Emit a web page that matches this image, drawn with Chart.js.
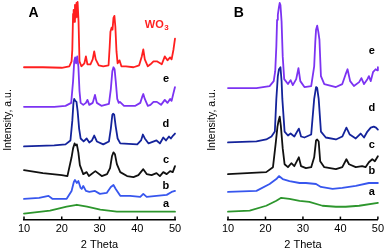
<!DOCTYPE html>
<html>
<head>
<meta charset="utf-8">
<script src="https://cdn.jsdelivr.net/npm/chart.js@4.4.0/dist/chart.umd.min.js"></script>
<style>
  body { margin: 0; background: #fff; }
  #wrap { position: relative; width: 387px; height: 252px; }
  canvas { position: absolute; top: 0; }
</style>
</head>
<body>
<div id="wrap">
  <canvas id="chartA" width="193" height="252" style="left:0"></canvas>
  <canvas id="chartB" width="194" height="252" style="left:193px"></canvas>
</div>
<script>
let thetaTicks = [10, 20, 30, 40, 50];
let curveLetters = ['e', 'd', 'c', 'b', 'a'];

// panel A, [2 theta, intensity (offset a.u.)]
let wo3A = [[10,154],[15,154],[20,153.5],[22,155],[22.6,160],[22.8,172],[23.0,208],[23.15,212],[23.3,200],[23.5,217],[23.7,204],[23.9,219],[24.05,205],[24.2,220],[24.45,200],[24.7,160],[25.2,155],[26.0,158],[26.4,165],[26.8,157],[27.6,157],[28.2,162],[28.6,170],[29.0,162],[29.8,156],[31,155],[32.4,156],[32.7,175],[32.9,190],[33.2,194],[33.45,192],[33.7,204],[33.95,206],[34.2,195],[34.5,170],[34.8,158],[35.3,161],[35.8,155],[37,155],[39,154],[40.5,156],[41.2,165],[41.6,172],[42.0,162],[42.8,155],[43.5,157],[44.3,160],[45.2,160],[46.5,157],[47.3,165],[48.0,161],[48.7,164],[49.1,162],[49.6,172],[50,183]];
let eA = [[10,114],[18,114],[21,115],[22.5,118],[23.0,140],[23.3,160],[23.55,164],[23.8,158],[24.1,165],[24.4,155],[24.7,130],[25.0,118],[25.7,116],[26.4,118],[26.8,121],[27.3,116],[28.2,118],[28.8,126],[29.3,118],[30.5,115],[32.5,117],[33.0,132],[33.4,150],[33.7,154],[34.0,152],[34.3,140],[34.7,122],[35.1,118],[35.4,119],[36.5,115],[39.5,115],[40.8,118],[41.3,124],[41.6,127],[42.0,122],[42.8,115],[43.5,116],[44.3,119],[45.2,119],[46.3,116],[47.3,121],[48.0,118],[48.7,122],[49.1,120],[49.6,128],[50,134]];
let dA = [[10,74],[18,75],[21,76],[22.3,80],[22.8,100],[23.1,118],[23.3,122],[23.6,120],[23.9,119],[24.2,110],[24.6,92],[25.0,82],[25.8,79],[26.6,82],[27.3,78],[28.0,80],[28.6,85],[29.3,79],[31,76],[32.5,79],[33.0,92],[33.4,106],[33.6,107],[33.9,106],[34.3,94],[34.8,82],[35.5,77],[40,76],[41.0,80],[41.5,86],[42.0,82],[43,77],[45.1,80],[46.0,77],[46.9,83],[47.6,80],[48.4,84],[48.9,82],[49.5,85],[50,87]];
let cA = [[10,50],[15,47],[20,45],[21.5,44],[22.6,63],[23.0,72],[23.4,77],[23.7,75],[24.0,76],[24.4,68],[24.8,55],[25.7,46],[26.6,48],[27.2,44],[28.9,49],[30.6,44],[32,46],[32.8,52],[33.3,64],[33.7,68],[34.1,66],[34.6,56],[35.5,48],[37.3,44],[39.0,43],[40.3,45],[41.6,51],[42.5,46],[43.8,45],[45.1,47],[46.0,44],[46.9,48],[47.8,46],[48.7,49],[49.4,48],[50,54]];
let bA = [[10,21],[14,22],[16.5,24],[17.5,21],[21.3,21],[22.6,29],[23.2,38],[23.5,40],[24.0,37],[24.4,39],[25.0,32],[25.3,31],[25.7,34],[26.4,29],[27.3,28],[28.8,29],[30.1,26],[31.9,27],[33.0,33],[33.7,35],[34.3,31],[35.5,24],[38.1,24],[40.8,23],[41.6,26],[42.5,23],[45.1,24],[47.8,25],[49.1,28],[50,29]];
let aA = [[10,6],[16.9,9],[21.3,13],[24,15],[26.7,13],[30.2,10],[34.6,8],[39,8],[43.4,8],[50,8]];

// panel B
let eB = [[10,133],[17.6,133],[21.1,135],[22.2,140],[22.6,150],[22.9,175],[23.1,202],[23.3,207],[23.6,215],[23.8,219],[24.0,217],[24.3,200],[24.6,165],[25.0,142],[26.0,137],[26.7,141],[27.3,136],[28.2,142],[28.8,153],[29.3,140],[30.4,134],[32.2,135],[33.0,155],[33.3,180],[33.5,192],[33.8,196],[34.1,190],[34.4,182],[34.8,145],[35.7,137],[38.8,134],[40.5,137],[41.4,147],[41.9,152],[42.6,140],[43.6,135],[45.0,139],[45.6,143],[46.3,137],[47.2,142],[47.6,145],[48.1,140],[48.7,149],[49.4,152],[49.8,151],[50,154]];
let dB = [[10,78],[17.6,79],[20.2,81],[21.6,84],[22.5,89],[22.9,122],[23.3,145],[23.6,152],[24.0,154],[24.3,140],[24.5,122],[25.1,89],[26.0,85],[26.7,87],[27.7,84],[28.9,92],[29.5,84],[30.4,83],[32.2,86],[33.0,122],[33.5,134],[33.8,133],[34.2,122],[34.8,89],[36.1,83],[38.8,81],[40.5,84],[41.6,93],[42.5,86],[44.1,82],[45.4,87],[46.3,83],[47.2,89],[48.1,93],[48.9,94],[49.5,93],[50,91]];
let cB = [[10,46],[20.2,48],[22.0,53],[22.7,76],[23.2,94],[23.5,100],[23.8,104],[24.1,95],[24.6,72],[25.1,56],[26.0,53],[26.9,57],[27.7,54],[28.9,63],[29.5,54],[30.8,52],[32.2,53],[33.0,63],[33.5,80],[33.8,81],[34.2,79],[34.6,59],[35.7,53],[38.8,51],[40.5,53],[41.6,61],[42.3,56],[44.1,53],[45.8,54],[46.7,53],[47.6,58],[48.5,61],[49.2,59],[50,64]];
let bB = [[10,28],[17.6,29],[21.1,36],[22.9,41],[23.6,44],[24.6,41],[26.4,39],[29.1,37],[30.8,37],[33.5,36],[34.8,33],[37.9,31],[40.5,32],[44.1,34],[47.6,37],[50,37]];
let aB = [[10,8],[15.8,9],[20.2,14],[22.9,19],[24.2,22],[26.4,21],[29.1,19],[31.7,18],[35.2,14],[38.8,13],[41.4,13],[45,14],[50,17]];

// label positions [2 theta, intensity]
let labelPosA = [[47.6,142],[47.6,97],[47.6,60],[47.6,34],[47.6,16]];
let labelPosB = [[48.4,170],[48.4,113],[48.4,75],[48.4,49],[48.4,28]];
let wo3LabelPos = [44.9, 197];

let red = '#ff1f1f', purple = '#7c33f2', navy = '#14239b', black = '#111111', blue = '#3756ee', green = '#2d962d';

let toXY = pts => pts.map(p => ({x: p[0], y: p[1]}));
let line = (pts, color) => ({
  data: toXY(pts), borderColor: color, borderWidth: 1.8,
  borderJoinStyle: 'round', borderCapStyle: 'round',
  pointRadius: 0, tension: 0, fill: false, clip: false
});

let textPlugin = {
  id: 'texts',
  afterDraw(chart, args, opts) {
    let ctx = chart.ctx, xs = chart.scales.x, ys = chart.scales.y, area = chart.chartArea;
    ctx.save();
    // ticks pointing in
    ctx.strokeStyle = '#000';
    ctx.lineWidth = 1.5;
    thetaTicks.forEach(t => {
      let px = xs.getPixelForValue(t);
      ctx.beginPath();
      ctx.moveTo(px, area.bottom);
      ctx.lineTo(px, area.bottom - 3);
      ctx.stroke();
    });
    ctx.fillStyle = '#000';
    ctx.textAlign = 'center';
    ctx.textBaseline = 'middle';
    // panel letter
    ctx.font = 'bold 14px "Liberation Sans", Arial, sans-serif';
    ctx.fillText(opts.panel, xs.getPixelForValue(opts.panelPos[0]), ys.getPixelForValue(opts.panelPos[1]));
    // curve letters
    ctx.font = 'bold 11px "Liberation Sans", Arial, sans-serif';
    opts.letters.forEach((p, i) => {
      ctx.fillText(curveLetters[i], xs.getPixelForValue(p[0]), ys.getPixelForValue(p[1]));
    });
    if (opts.wo3) {
      ctx.fillStyle = red;
      ctx.textAlign = 'left';
      let px = xs.getPixelForValue(opts.wo3[0]) - 11, py = ys.getPixelForValue(opts.wo3[1]);
      ctx.font = 'bold 11px "Liberation Sans", Arial, sans-serif';
      ctx.fillText('WO', px, py);
      let w = ctx.measureText('WO').width;
      ctx.font = 'bold 8px "Liberation Sans", Arial, sans-serif';
      ctx.fillText('3', px + w + 0.5, py + 3);
    }
    // y title
    ctx.fillStyle = '#000';
    ctx.textAlign = 'center';
    ctx.font = '10.5px "Liberation Sans", Arial, sans-serif';
    ctx.translate(area.left - 16, 120);
    ctx.rotate(-Math.PI / 2);
    ctx.fillText('Intensity, a.u.', 0, 0);
    ctx.restore();
  }
};

let makeOptions = (padLeft, padRight, texts) => ({
  responsive: false,
  animation: false,
  devicePixelRatio: 1,
  layout: { padding: { left: padLeft, right: padRight, top: 0, bottom: 0 } },
  plugins: { legend: { display: false }, tooltip: { enabled: false }, texts: texts },
  scales: {
    x: {
      type: 'linear', min: 10, max: 50,
      grid: { display: true, drawOnChartArea: false, drawTicks: false },
      border: { display: true, color: '#000', width: 1.5 },
      ticks: { stepSize: 10, padding: 3, color: '#000', maxRotation: 0, autoSkip: false,
               font: { family: '"Liberation Sans", Arial, sans-serif', size: 11 } },
      title: { display: true, text: '2 Theta', color: '#000', padding: { top: 0, bottom: 0 },
               font: { family: '"Liberation Sans", Arial, sans-serif', size: 11 } }
    },
    y: { type: 'linear', min: 0, max: 222, display: false }
  }
});

new Chart(document.getElementById('chartA'), {
  type: 'line',
  data: { datasets: [line(wo3A, red), line(eA, purple), line(dA, navy), line(cA, black), line(bA, blue), line(aA, green)] },
  options: makeOptions(24, 18, { panel: 'A', panelPos: [12.5, 209], letters: labelPosA, wo3: wo3LabelPos }),
  plugins: [textPlugin]
});

new Chart(document.getElementById('chartB'), {
  type: 'line',
  data: { datasets: [line(eB, purple), line(dB, navy), line(cB, black), line(bB, blue), line(aB, green)] },
  options: makeOptions(35, 8, { panel: 'B', panelPos: [12.9, 209], letters: labelPosB, wo3: null }),
  plugins: [textPlugin]
});
</script>
</body>
</html>
